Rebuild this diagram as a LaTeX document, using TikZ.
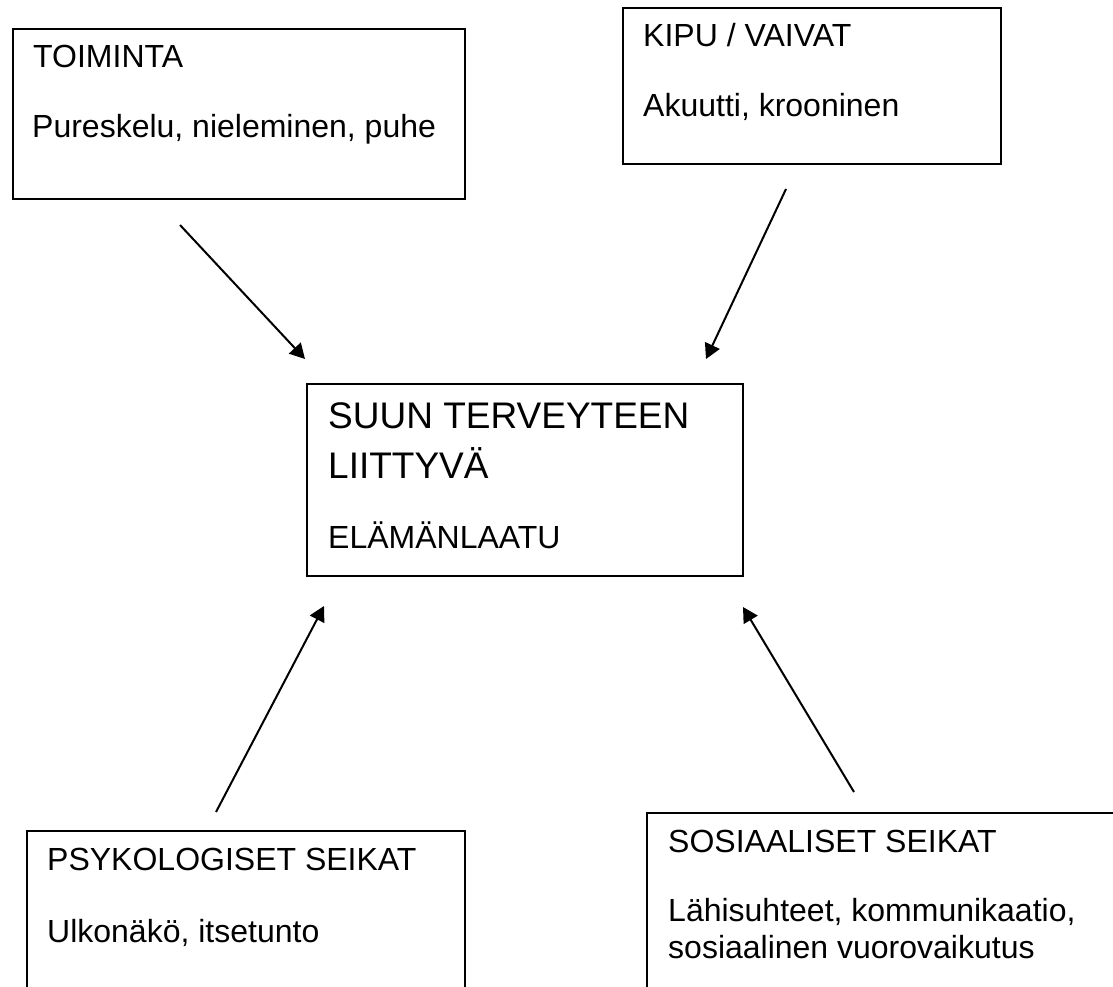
\documentclass[tikz,border=0pt]{standalone}
\usepackage{fontspec}
\setmainfont{Liberation Sans}
\usetikzlibrary{arrows.meta}
\begin{document}
\begin{tikzpicture}[x=1pt,y=-1pt,
  box/.style={draw,line width=2pt,inner sep=0pt,anchor=north west},
  txt/.style={anchor=base west,inner sep=0pt,font=\fontsize{32}{38}\selectfont},
  big/.style={anchor=base west,inner sep=0pt,font=\fontsize{37}{44}\selectfont},
  arr/.style={line width=2pt,-{Triangle[length=15pt,width=16pt]}}]
\useasboundingbox (0,0) rectangle (1113,987);
\clip (0,0) rectangle (1113,987);
% boxes
\node[box,minimum width=452pt,minimum height=170pt] (toim) at (12,28) {};
\node[box,minimum width=378pt,minimum height=156pt] (kipu) at (622,7) {};
\node[box,line width=1.7pt,minimum width=436pt,minimum height=192pt] (center) at (306,383) {};
\node[box,minimum width=438pt,minimum height=200pt] (psyk) at (26,830) {};
\node[box,minimum width=500pt,minimum height=220pt] (sos) at (646,812) {};
% texts
\node[txt] (t1a) at (33,68) {TOIMINTA};
\node[txt] (t1b) at (32,138) {Pureskelu, nieleminen, puhe};
\node[txt] (t2a) at (643,47) {KIPU / VAIVAT};
\node[txt] (t2b) at (643,117) {Akuutti, krooninen};
\node[big] (c1) at (328,428) {SUUN TERVEYTEEN};
\node[big] (c2) at (328,478) {LIITTYVÄ};
\node[txt] (c3) at (328,548) {ELÄMÄNLAATU};
\node[txt] (t4a) at (47,870) {PSYKOLOGISET SEIKAT};
\node[txt] (t4b) at (47,942) {Ulkonäkö, itsetunto};
\node[txt] (t5a) at (668,852) {SOSIAALISET SEIKAT};
\node[txt] (t5b) at (668,921) {Lähisuhteet, kommunikaatio,};
\node[txt] (t5c) at (668,958) {sosiaalinen vuorovaikutus};
% arrows
\coordinate (a1s) at (180,225); \coordinate (a1e) at (305,359);
\coordinate (a2s) at (786,189); \coordinate (a2e) at (706,359);
\coordinate (a3s) at (216,812); \coordinate (a3e) at (324,606);
\coordinate (a4s) at (854,792); \coordinate (a4e) at (743,607);
\draw[arr] (a1s) -- (a1e);
\draw[arr] (a2s) -- (a2e);
\draw[arr] (a3s) -- (a3e);
\draw[arr] (a4s) -- (a4e);
\end{tikzpicture}
\end{document}
